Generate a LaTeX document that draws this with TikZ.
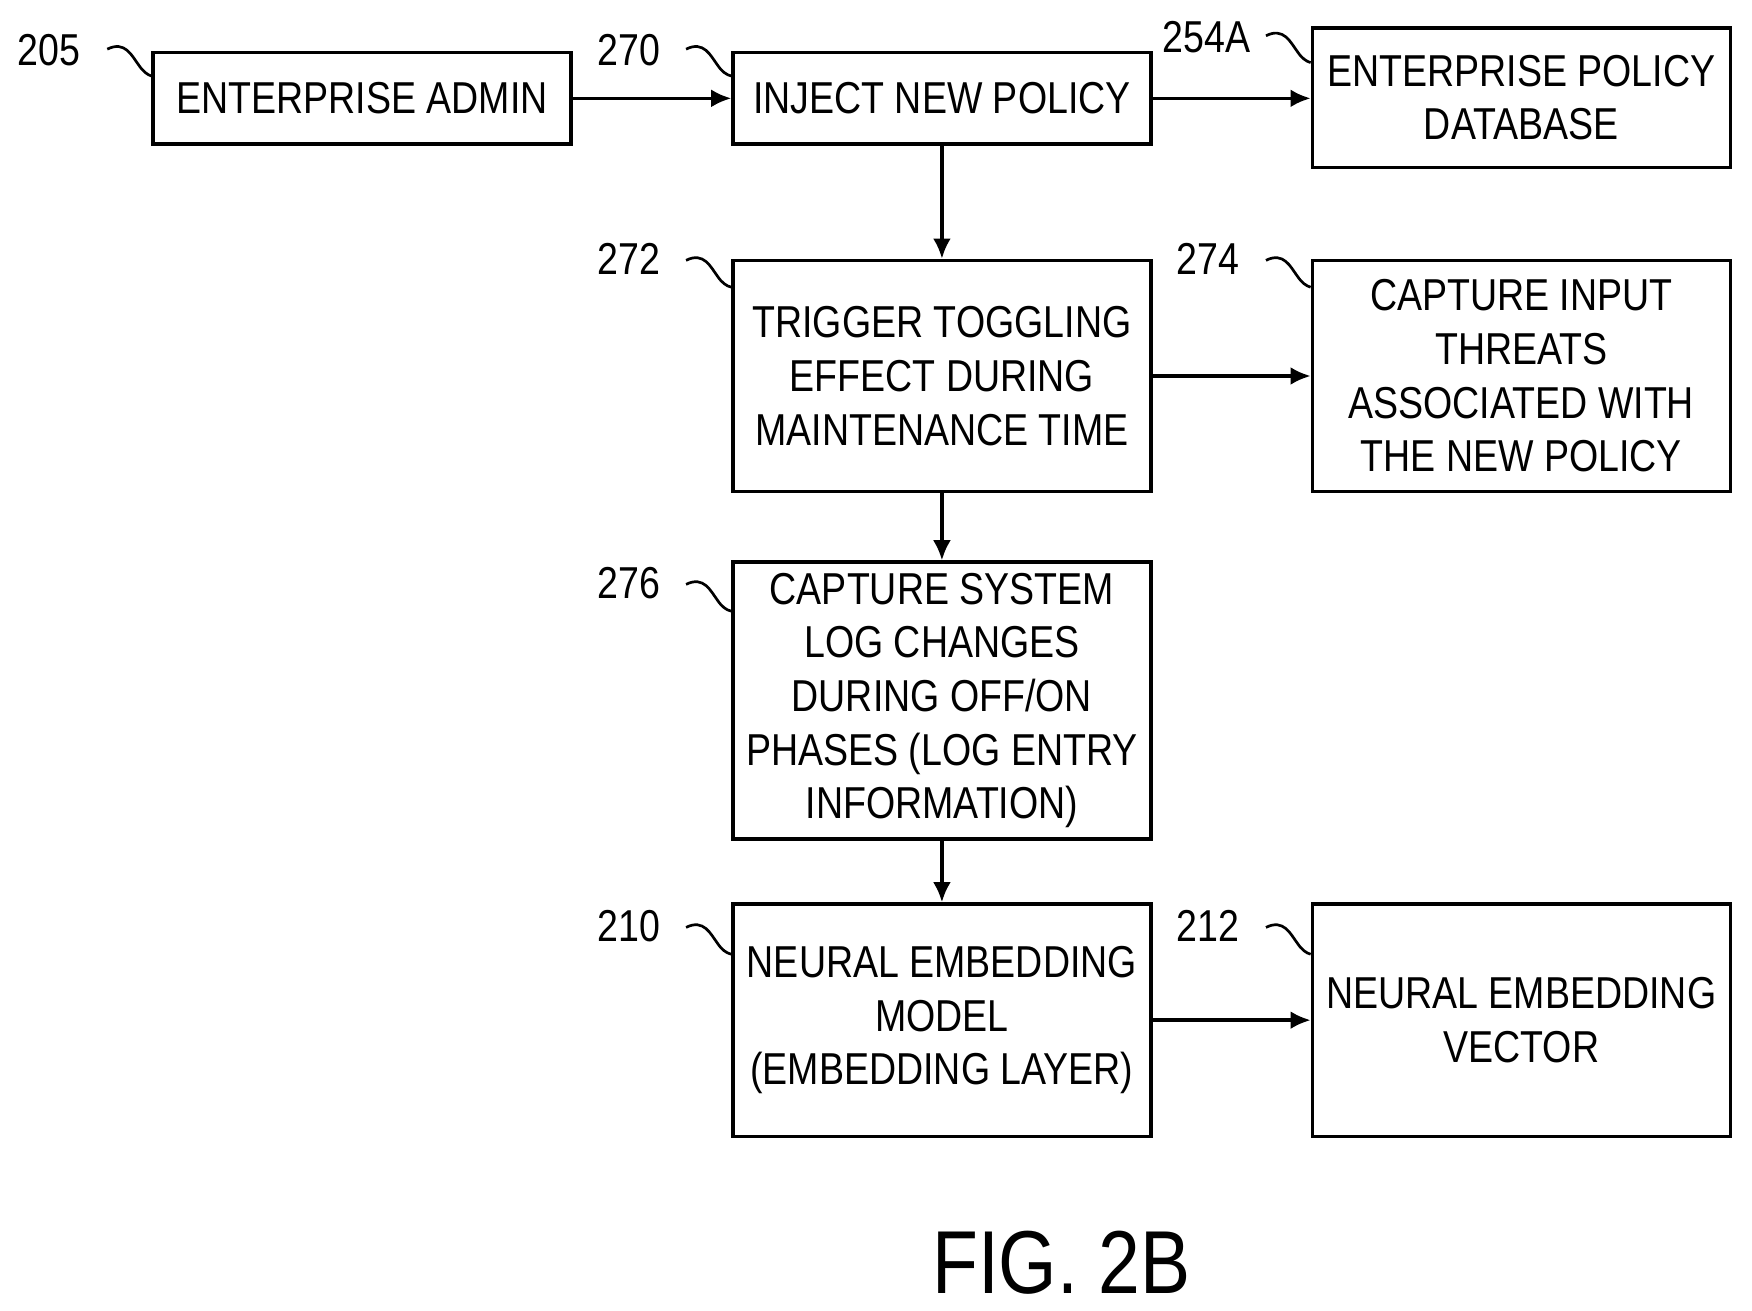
\documentclass[tikz,border=0pt]{standalone}
\usepackage{fontspec}
\setmainfont{Liberation Sans}[FakeStretch=0.84]
\usetikzlibrary{arrows.meta}
\begin{document}
\begin{tikzpicture}[x=0.5pt,y=-0.5pt,line width=1.5pt,
  font=\fontsize{20}{24}\selectfont,
  box/.style={draw,black,align=center,inner sep=0pt,minimum width=187pt},
  arr/.style={-{Latex[length=9pt,width=8pt]}},
  lead/.style={line width=1.2pt}]
\useasboundingbox (0,0) rectangle (1568,1173);
\node [box,minimum height=41pt] (admin) at (324,88) {ENTERPRISE ADMIN};
\node [box,minimum height=41pt] (inject) at (843,88) {INJECT NEW POLICY};
\node [box,minimum height=62.5pt] (db) at (1361.5,87.5) {ENTERPRISE POLICY\\DATABASE};
\node [box,minimum height=103.5pt] (trigger) at (843,336.5) {TRIGGER TOGGLING\\EFFECT DURING\\MAINTENANCE TIME};
\node [box,minimum height=103.5pt] (threats) at (1361.5,336.5) {CAPTURE INPUT\\THREATS\\ASSOCIATED WITH\\THE NEW POLICY};
\node [box,minimum height=124pt] (logs) at (843,627) {CAPTURE SYSTEM\\LOG CHANGES\\DURING OFF/ON\\PHASES (LOG ENTRY\\INFORMATION)};
\node [box,minimum height=104pt] (model) at (843,913) {NEURAL EMBEDDING\\MODEL\\(EMBEDDING LAYER)};
\node [box,minimum height=104pt] (vector) at (1361.5,913) {NEURAL EMBEDDING\\VECTOR};
\draw [arr] (admin) -- (inject);
\draw [arr] (inject) -- (db.west |- inject);
\draw [arr] (inject) -- (trigger);
\draw [arr] (trigger) -- (threats);
\draw [arr] (trigger) -- (logs);
\draw [arr] (logs) -- (model);
\draw [arr] (model) -- (vector);
% reference numerals
\node (n205) at (44,45) {205};
\node (n270) at (563,45) {270};
\node (n254) at (1080,33) {254A};
\node (n272) at (563,232) {272};
\node (n274) at (1081,232) {274};
\node (n276) at (563,522) {276};
\node (n210) at (563,829) {210};
\node (n212) at (1081,829) {212};
\draw [lead] (96,44) .. controls (112,36) and (118,50) .. (124,58) .. controls (128,64) and (132,67) .. (admin.north west |- 0,68);
\draw [lead] (614,44) .. controls (630,36) and (636,50) .. (642,58) .. controls (646,64) and (650,67) .. (inject.north west |- 0,68);
\draw [lead] (1133,32) .. controls (1149,24) and (1155,38) .. (1161,46) .. controls (1165,52) and (1169,55) .. (db.north west |- 0,56);
\draw [lead] (614,233) .. controls (630,225) and (636,239) .. (642,247) .. controls (646,253) and (650,256) .. (trigger.north west |- 0,257);
\draw [lead] (1133,233) .. controls (1149,225) and (1155,239) .. (1161,247) .. controls (1165,253) and (1169,256) .. (threats.north west |- 0,257);
\draw [lead] (614,523) .. controls (630,515) and (636,529) .. (642,537) .. controls (646,543) and (650,546) .. (logs.north west |- 0,547);
\draw [lead] (614,830) .. controls (630,822) and (636,836) .. (642,844) .. controls (646,850) and (650,853) .. (model.north west |- 0,854);
\draw [lead] (1133,830) .. controls (1149,822) and (1155,836) .. (1161,844) .. controls (1165,850) and (1169,853) .. (vector.north west |- 0,854);
\node (fig) at (950,1130) {\fontsize{40}{44}\selectfont FIG. 2B};
\end{tikzpicture}
\end{document}
